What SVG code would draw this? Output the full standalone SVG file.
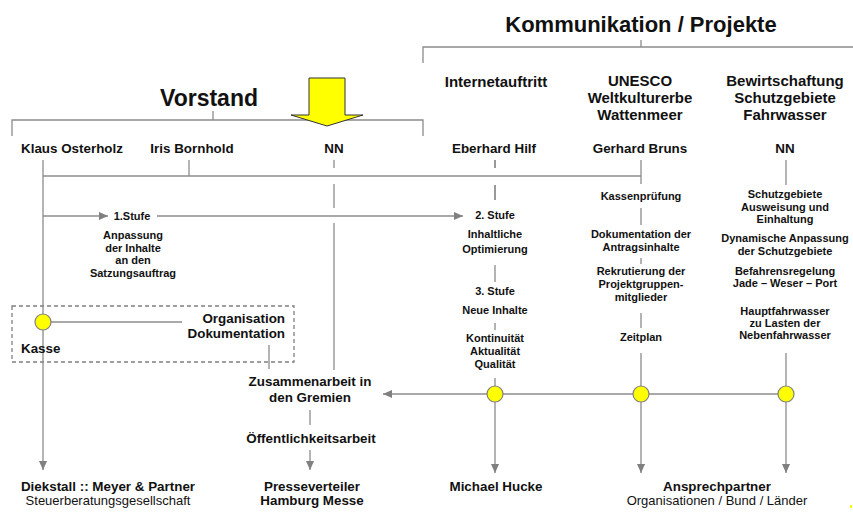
<svg xmlns="http://www.w3.org/2000/svg" width="853" height="513" viewBox="0 0 853 513">
<style>
text{font-family:"Liberation Sans",Arial,sans-serif;fill:#111;text-anchor:middle}
.h1{font-size:22px;font-weight:bold}
.h2{font-size:15px;font-weight:bold}
.n{font-size:13.4px;font-weight:bold}
.s{font-size:11px;font-weight:bold}
.r{font-size:13px;font-weight:normal}
.ln{stroke:#8c8c8c;stroke-width:1.3;fill:none}
.dk{stroke:#555;stroke-width:1.2;fill:none}
.dot{fill:#ffff00;stroke:#808080;stroke-width:1.2}
</style>
<defs>
<marker id="arr" viewBox="0 0 10 10" refX="10" refY="5" markerWidth="9" markerHeight="9" markerUnits="userSpaceOnUse" orient="auto">
<path d="M0,0.5 L10,5 L0,9.5 z" fill="#808080"/>
</marker>
</defs>
<rect width="853" height="513" fill="#fff"/>

<g id="connectors">
<!-- brackets -->
<path class="ln" d="M423,63 V47 H853 M641,40 V47"/>
<path class="ln" d="M12,136 V120 H423 V136 M213,111 V120"/>
<!-- top horizontal -->
<path class="ln" d="M43,176 H641"/>
<path class="ln" d="M189,160 V176"/>
<path class="ln" d="M641,160 V184"/>
<path class="ln" d="M786,160 V185"/>
<!-- Eberhard ticks -->
<path class="dk" d="M495,160 V168 M495,185 V200"/>
<!-- NN vorstand vertical with gaps -->
<path class="ln" d="M334,160 V168 M334,184 V208 M334,223 V370"/>
<!-- Klaus vertical -->
<path class="ln" d="M43,160 V470" marker-end="url(#arr)"/>
<!-- 1. Stufe arrows -->
<path class="ln" d="M43,216 H108" marker-end="url(#arr)"/>
<path class="ln" d="M157,216 H463" marker-end="url(#arr)"/>
<!-- Kasse line -->
<path class="ln" d="M43,322 H182"/>
<path class="ln" d="M269,345 V369"/>
<!-- Eberhard column -->
<path class="ln" d="M495,265 V282 M495,323 V330 M495,378 V394"/>
<!-- Gerhard column -->
<path class="ln" d="M641,208 V225 M641,258 V264 M641,313 V328 M641,353 V394"/>
<!-- NN column -->
<path class="ln" d="M786,353 V394"/>
<!-- bottom horizontal to Zusammenarbeit -->
<path class="ln" d="M786,394 H383" marker-end="url(#arr)"/>
<!-- down arrows -->
<path class="ln" d="M495,394 V473" marker-end="url(#arr)"/>
<path class="ln" d="M641,394 V473" marker-end="url(#arr)"/>
<path class="ln" d="M786,394 V473" marker-end="url(#arr)"/>
<path class="ln" d="M310,410 V425"/>
<path class="ln" d="M310,450 V470" marker-end="url(#arr)"/>
</g>

<g id="title-kommunikation"><text class="h1" x="641" y="32">Kommunikation / Projekte</text></g>
<g id="title-vorstand"><text class="h1" x="209" y="106" style="font-size:23px">Vorstand</text></g>
<g id="yellow-arrow"><path d="M309,78 H345 V115 H363 L327,126 L291,115 H309 Z" fill="#ffff00" stroke="#333" stroke-width="1"/></g>

<g id="internetauftritt"><text class="h2" x="496" y="87">Internetauftritt</text></g>
<g id="unesco"><text class="h2" x="640" y="86">UNESCO</text><text class="h2" x="640" y="103">Weltkulturerbe</text><text class="h2" x="640" y="120">Wattenmeer</text></g>
<g id="bewirtschaftung"><text class="h2" x="785" y="86">Bewirtschaftung</text><text class="h2" x="785" y="103">Schutzgebiete</text><text class="h2" x="785" y="120">Fahrwasser</text></g>

<g id="klaus"><text class="n" x="72" y="153">Klaus Osterholz</text></g>
<g id="iris"><text class="n" x="192" y="153">Iris Bornhold</text></g>
<g id="nn1"><text class="n" x="334" y="153">NN</text></g>
<g id="eberhard"><text class="n" x="494" y="153">Eberhard Hilf</text></g>
<g id="gerhard"><text class="n" x="640" y="153">Gerhard Bruns</text></g>
<g id="nn2"><text class="n" x="785" y="153">NN</text></g>

<g id="stufe1"><text class="s" x="132" y="220">1.Stufe</text>
<text class="s" x="133" y="239">Anpassung</text><text class="s" x="133" y="252">der Inhalte</text><text class="s" x="133" y="264">an den</text><text class="s" x="133" y="277">Satzungsauftrag</text></g>

<g id="kasse-box">
<rect x="12" y="306" width="282" height="56" fill="none" stroke="#808080" stroke-width="1.3" stroke-dasharray="4,3"/>
<circle class="dot" cx="43" cy="322" r="8"/>
<text class="n" x="21" y="353" style="text-anchor:start">Kasse</text>
<text class="n" x="285" y="323" style="text-anchor:end">Organisation</text>
<text class="n" x="285" y="338" style="text-anchor:end">Dokumentation</text>
</g>

<g id="eberhard-col">
<text class="s" x="495" y="219">2. Stufe</text>
<text class="s" x="495" y="238">Inhaltliche</text><text class="s" x="495" y="253">Optimierung</text>
<text class="s" x="495" y="295">3. Stufe</text>
<text class="s" x="495" y="314">Neue Inhalte</text>
<text class="s" x="495" y="342">Kontinuität</text><text class="s" x="495" y="355">Aktualität</text><text class="s" x="495" y="368">Qualität</text>
</g>

<g id="gerhard-col">
<text class="s" x="641" y="200">Kassenprüfung</text>
<text class="s" x="641" y="238">Dokumentation der</text><text class="s" x="641" y="251">Antragsinhalte</text>
<text class="s" x="641" y="275">Rekrutierung der</text><text class="s" x="641" y="288">Projektgruppen-</text><text class="s" x="641" y="301">mitglieder</text>
<text class="s" x="641" y="341">Zeitplan</text>
</g>

<g id="nn-col">
<text class="s" x="785" y="198">Schutzgebiete</text><text class="s" x="785" y="211">Ausweisung und</text><text class="s" x="785" y="223">Einhaltung</text>
<text class="s" x="785" y="242">Dynamische Anpassung</text><text class="s" x="785" y="255">der Schutzgebiete</text>
<text class="s" x="785" y="275">Befahrensregelung</text><text class="s" x="785" y="287">Jade – Weser – Port</text>
<text class="s" x="785" y="315">Hauptfahrwasser</text><text class="s" x="785" y="327">zu Lasten der</text><text class="s" x="785" y="339">Nebenfahrwasser</text>
</g>

<g id="dots">
<circle class="dot" cx="495" cy="394" r="8"/>
<circle class="dot" cx="641" cy="394" r="8"/>
<circle class="dot" cx="786" cy="394" r="8"/>
</g>

<g id="zusammenarbeit"><text class="n" x="310" y="386">Zusammenarbeit in</text><text class="n" x="310" y="402">den Gremien</text></g>
<g id="oeffentlichkeit"><text class="n" x="311" y="443">Öffentlichkeitsarbeit</text></g>

<g id="diekstall"><text class="n" x="108" y="491">Diekstall :: Meyer &amp; Partner</text><text class="r" x="108" y="505">Steuerberatungsgesellschaft</text></g>
<g id="presse"><text class="n" x="312" y="491">Presseverteiler</text><text class="n" x="312" y="505">Hamburg Messe</text></g>
<g id="hucke"><text class="n" x="496" y="491">Michael Hucke</text></g>
<g id="ansprech"><text class="n" x="717" y="491">Ansprechpartner</text><text class="r" x="717" y="505">Organisationen / Bund / Länder</text></g>
<rect x="850" y="505" width="2" height="3" fill="#ffff00"/>
</svg>
